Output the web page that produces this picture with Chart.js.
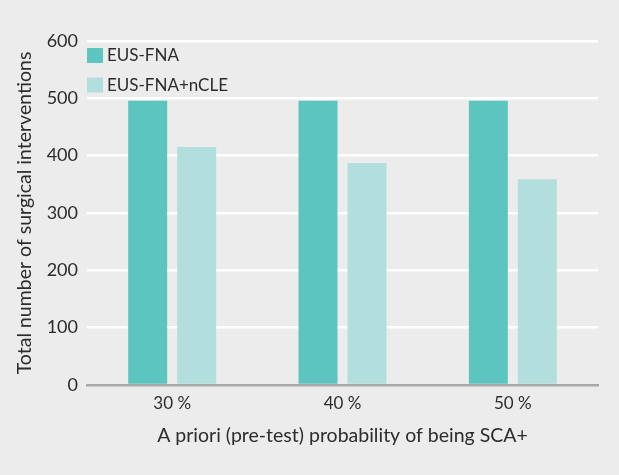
<!DOCTYPE html>
<html>
<head>
<meta charset="utf-8">
<script src="https://cdn.jsdelivr.net/npm/chart.js@4"></script>
<style>
    html, body { margin: 0; padding: 0; background: #ebeceb; }
    #wrap { width: 619px; height: 475px; position: relative; }
</style>
</head>
<body>
<div id="wrap"><canvas id="chart"></canvas></div>
<script>
// Datos del gráfico
const categorias = ['30 %', '40 %', '50 %'];
const serieFNA = [496, 496, 496];
const serieNCLE = [415, 387, 359];
const etiquetasSeries = ['EUS-FNA', 'EUS-FNA+nCLE'];
const ticksY = [0, 100, 200, 300, 400, 500, 600];

const FUENTE = 'Lato, "Open Sans", sans-serif';
const TEXTO = '#2c2c2c';

// Leyenda dibujada dentro del área del gráfico
const leyendaInterna = {
    id: 'leyendaInterna',
    afterDraw(chart) {
        const ctx = chart.ctx;
        const left = chart.chartArea.left;
        ctx.save();
        ctx.font = '17px ' + FUENTE;
        ctx.textBaseline = 'middle';
        ctx.textAlign = 'left';
        chart.data.datasets.forEach((ds, i) => {
            const y = 48 + i * 29.5;
            ctx.fillStyle = ds.backgroundColor;
            ctx.fillRect(left, y, 16, 15);
            ctx.fillStyle = TEXTO;
            ctx.fillText(ds.label, left + 20, y + 8);
        });
        ctx.restore();
    }
};

const ctx = document.getElementById('chart').getContext('2d');
new Chart(ctx, {
    type: 'bar',
    data: {
        labels: categorias,
        datasets: [
            { label: etiquetasSeries[0], data: serieFNA, backgroundColor: '#5cc5bf' },
            { label: etiquetasSeries[1], data: serieNCLE, backgroundColor: '#b2dfdd' }
        ]
    },
    options: {
        responsive: true,
        maintainAspectRatio: false,
        animation: false,
        layout: { padding: { top: 41, right: 21, bottom: 0, left: 0 } },
        datasets: {
            bar: { categoryPercentage: 0.575, barPercentage: 0.796 }
        },
        plugins: {
            legend: { display: false },
            tooltip: { enabled: false }
        },
        scales: {
            x: {
                grid: { display: false, drawTicks: false },
                border: { display: true, color: '#a8a8a8', width: 2.5 },
                ticks: { color: TEXTO, font: { family: FUENTE, size: 17 }, padding: 8 },
                title: {
                    display: true,
                    text: 'A priori (pre-test) probability of being SCA+',
                    color: TEXTO,
                    font: { family: FUENTE, size: 19.5 },
                    padding: { top: 0, bottom: 28 }
                },
                afterFit(scale) { scale.height = 90; }
            },
            y: {
                min: 0,
                max: 600,
                afterBuildTicks(scale) {
                    scale.ticks = ticksY.map(v => ({ value: v }));
                },
                grid: {
                    drawTicks: false,
                    lineWidth: 2.5,
                    color: c => (c.tick && c.tick.value === 0) ? 'rgba(0,0,0,0)' : '#ffffff'
                },
                border: { display: false },
                ticks: { color: TEXTO, font: { family: FUENTE, size: 18 }, padding: 9 },
                title: {
                    display: true,
                    text: 'Total number of surgical interventions',
                    color: TEXTO,
                    font: { family: FUENTE, size: 19.5 },
                    padding: { top: 13, bottom: 0 }
                },
                afterFit(scale) { scale.width = 87; }
            }
        }
    },
    plugins: [leyendaInterna]
});
</script>
</body>
</html>
